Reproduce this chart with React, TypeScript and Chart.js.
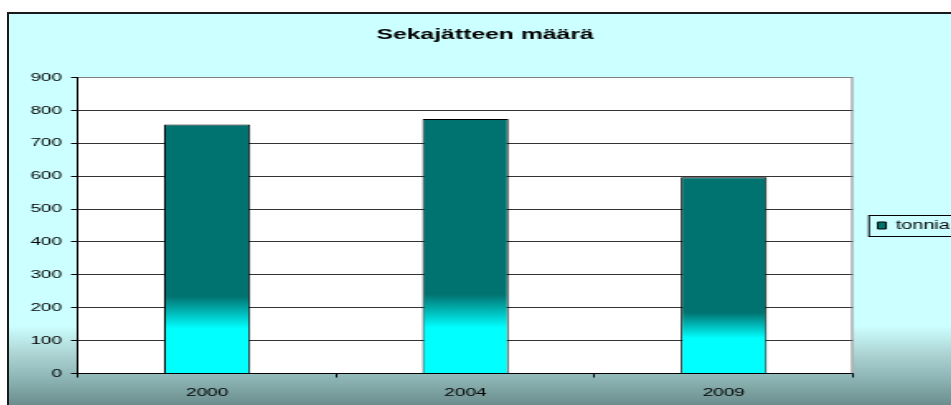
import React, { useEffect, useRef } from "react";
import { Chart, registerables } from "chart.js";

Chart.register(...registerables);

const categories = ["2000", "2004", "2009"];
const tonnia = [757, 774, 597];
const seriesLabel = "tonnia";
const titleText = "Sekajätteen määrä";
const yMin = 0;
const yMax = 900;
const yStep = 100;

const TEAL = "#007371";
const CYAN = "#00FFFF";
const FONT = "'Liberation Sans', Arial, sans-serif";
const SX = 1.65;
const CW = 571;
const CH = 391;

const plotDecor = {
  id: "plotDecor",
  beforeDraw(chart: any) {
    const { ctx, chartArea: a } = chart;
    ctx.save();
    ctx.fillStyle = "#FFFFFF";
    ctx.fillRect(a.left, a.top, a.right - a.left, a.bottom - a.top);
    ctx.restore();
  },
  afterDraw(chart: any) {
    const { ctx, chartArea: a } = chart;
    ctx.save();
    ctx.strokeStyle = "#808080";
    ctx.lineWidth = 1;
    ctx.beginPath();
    ctx.moveTo(a.right - 0.5, a.top);
    ctx.lineTo(a.right - 0.5, a.bottom);
    ctx.stroke();
    const lg = chart.legend;
    if (lg) {
      const pad = 15;
      const itemH = 12;
      const cy = (lg.top + pad + lg.bottom - (itemH + pad)) / 2;
      const x0 = lg.left + pad - 5.3;
      ctx.strokeStyle = "#000";
      ctx.lineWidth = 1;
      ctx.strokeRect(x0, Math.round(cy - 5) + 0.5, chart.width + 20 - x0, itemH + 9);
    }
    ctx.restore();
  },
};

export default function App() {
  const ref = useRef<HTMLCanvasElement | null>(null);
  useEffect(() => {
    if (!ref.current) return;
    const chart = new Chart(ref.current, {
      type: "bar",
      data: {
        labels: categories,
        datasets: [
          {
            label: seriesLabel,
            data: tonnia,
            borderColor: "#000",
            borderWidth: 1,
            barPercentage: 0.333,
            categoryPercentage: 1,
            backgroundColor: (c: any) => {
              if (c.type !== "data") return TEAL;
              const ch = c.chart;
              if (!ch.chartArea || !ch.scales || !ch.scales.y) return TEAL;
              const ys = ch.scales.y;
              const top = ys.getPixelForValue(c.raw as number);
              const bottom = ys.getPixelForValue(0);
              const g = ch.ctx.createLinearGradient(0, top, 0, bottom);
              g.addColorStop(0, TEAL);
              g.addColorStop(0.69, TEAL);
              g.addColorStop(0.82, CYAN);
              g.addColorStop(1, CYAN);
              return g;
            },
          } as any,
        ],
      },
      options: {
        responsive: false,
        animation: false,
        devicePixelRatio: 1,
        layout: { padding: { left: -3.2, right: -9.2, top: 0, bottom: 0 } },
        plugins: {
          title: {
            display: true,
            text: titleText,
            color: "#000",
            font: { family: FONT, size: 15, weight: "bold" },
            padding: { top: 12, bottom: 33.5 },
          },
          legend: {
            display: true,
            position: "right",
            fullSize: false,
            labels: {
              boxWidth: 5,
              boxHeight: 7,
              padding: 15,
              color: "#000",
              font: { family: FONT, size: 12 },
            },
          },
          tooltip: { enabled: false },
        },
        scales: {
          x: {
            offset: true,
            grid: {
              display: true,
              drawOnChartArea: false,
              drawTicks: true,
              tickLength: 4,
              color: "#000",
              offset: true,
            },
            border: { display: true, color: "#000", width: 1 },
            ticks: { color: "#000", padding: 8, font: { family: FONT, size: 11.5 } },
            afterFit: (s: any) => {
              s.height = 31.5;
            },
          },
          y: {
            min: yMin,
            max: yMax,
            ticks: {
              stepSize: yStep,
              color: "#000",
              padding: 5.5,
              font: { family: FONT, size: 11.5 },
            },
            grid: {
              color: (c: any) => (c.tick && c.tick.value === yMax ? "#808080" : "#333"),
              tickColor: "#000",
              tickLength: 4.2,
              drawTicks: true,
            },
            border: { display: true, color: "#000", width: 1 },
            afterFit: (s: any) => {
              s.width = 45;
            },
          },
        },
      },
      plugins: [plotDecor],
    });
    return () => chart.destroy();
  }, []);

  return (
    <div
      style={{
        position: "fixed",
        left: 7,
        top: 12,
        width: 944,
        height: 393,
        boxSizing: "border-box",
        borderLeft: "2px solid #1a1a1a",
        borderTop: "2px solid #1a1a1a",
        overflow: "hidden",
        background:
          "linear-gradient(to bottom, #CCFFFF 0px, #CCFFFF 312px, #ADD3D3 340px, #93BBBB 360px, #6B8D8D 391px)",
      }}
    >
      <canvas
        ref={ref}
        width={CW}
        height={CH}
        style={{
          display: "block",
          width: CW + "px",
          height: CH + "px",
          transform: `scaleX(${SX})`,
          transformOrigin: "0 0",
        }}
      />
    </div>
  );
}
